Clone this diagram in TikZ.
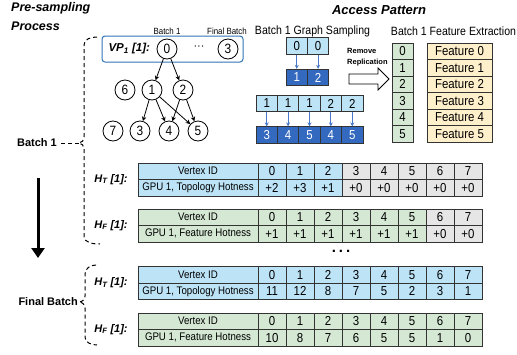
\documentclass[tikz,border=0pt]{standalone}
\usepackage{fontspec}
\setmainfont{Liberation Sans}
\setsansfont{Liberation Sans}
\newfontfamily\narrowsf[FakeStretch=0.88]{Liberation Sans}
\usetikzlibrary{arrows.meta}
\definecolor{cellblue}{HTML}{BDE3F6}
\definecolor{cellgreen}{HTML}{D5E8D4}
\definecolor{cellgray}{HTML}{E6E6E6}
\definecolor{cellyellow}{HTML}{FFF0CC}
\definecolor{darkcell}{HTML}{3469C0}
\definecolor{arrowblue}{HTML}{4A78C8}
\definecolor{frameblue}{HTML}{2E75B6}
\newcommand{\fsz}[1]{\fontsize{#1}{#1}\selectfont}

\begin{document}
\begin{tikzpicture}[x=1pt, y=-1pt, font=\sffamily,
	vtx/.style={circle, draw, line width=0.8pt, minimum size=20pt, inner sep=0pt, font=\narrowsf\fsz{13.5}},
	treeedge/.style={line width=0.8pt, -{Stealth[length=4.5pt,width=4.5pt]}},
	cell/.style={draw=black!80, line width=0.8pt, minimum height=16.5pt, inner sep=0pt, font=\narrowsf\fsz{13}},
	namecell/.style={cell, minimum width=120pt, font=\narrowsf\fsz{11}},
	hotcell/.style={cell, minimum width=28pt},
	samp/.style={cell, minimum width=21.4pt},
	sarrow/.style={arrowblue, line width=1pt, -{Stealth[length=4pt,width=4pt]}},
	brace/.style={line width=1pt, dash pattern=on 4pt off 3pt},
	hlabel/.style={font=\fsz{11}\bfseries\itshape}]
	\useasboundingbox (0,0) rectangle (517,354);
	\node[font=\fontsize{12.5}{19}\selectfont\bfseries\itshape, align=left, anchor=north west, inner sep=0pt] (pre) at (11,2) {Pre-sampling\\Process};
	\node[font=\fsz{13}\bfseries\itshape] (acc) at (379,10) {Access Pattern};
	\node[font=\narrowsf\fsz{12}] (gstitle) at (312.5,31) {Batch 1 Graph Sampling};
	\node[font=\narrowsf\fsz{12}] (fetitle) at (453.5,31) {Batch 1 Feature Extraction};

	\node[draw=frameblue, line width=1pt, rounded corners=3pt, minimum width=141pt, minimum height=26pt] (vp) at (172.5,49) {};
	\node[font=\fsz{11.5}\bfseries\itshape, anchor=west] (vplbl) at (105,49) {VP\textsubscript{1} [1]:};
	\node[font=\narrowsf\fsz{9}] (bfirst) at (167,31) {Batch 1};
	\node[font=\narrowsf\fsz{9}] (blast) at (227,31) {Final Batch};
	\node[vtx, fill=white] (v0) at (167,49) {0};
	\node[font=\fsz{11}] (vdots) at (199,48) {···};
	\node[vtx, fill=white] (vl3) at (228,49) {3};
	\node[vtx] (v6) at (125,90) {6};
	\node[vtx] (v1) at (152,90) {1};
	\node[vtx] (v2) at (183,90) {2};
	\node[vtx] (v7) at (113,131) {7};
	\node[vtx] (v3) at (140,131) {3};
	\node[vtx] (v4) at (169,131) {4};
	\node[vtx] (v5) at (198,131) {5};
	\foreach \a/\b in {v0/v1, v0/v2, v1/v3, v1/v4, v1/v5, v2/v4, v2/v5}
		\draw[treeedge] (\a) -- (\b);

	\node[samp, fill=cellblue] (a0) at (296.7,46) {0};
	\node[samp, fill=cellblue] (a1) at (318.1,46) {0};
	\node[samp, fill=darkcell, text=white] (b0) at (296.7,77.5) {1};
	\node[samp, fill=darkcell, text=white] (b1) at (318.1,77.5) {2};
	\draw[sarrow] (a0) -- (b0);
	\draw[sarrow] (a1) -- (b1);
	\foreach \u/\w [count=\i from 0] in {1/3, 1/4, 1/5, 2/4, 2/5} {
		\node[samp, fill=cellblue] (c\i) at (266.7+21.4*\i,103.5) {\u};
		\node[samp, fill=darkcell, text=white] (d\i) at (266.7+21.4*\i,135) {\w};
		\draw[sarrow] (c\i) -- (d\i);
	}

	\node[font=\fontsize{7.5}{11}\selectfont\bfseries, align=left, anchor=west, inner sep=0pt] (rmv) at (347,57) {Remove\\Replication};
	\draw[line width=0.8pt, fill=white] (349,74) -- (378,74) -- (378,68) -- (389,79) -- (378,90) -- (378,84) -- (349,84) -- cycle;

	\foreach \k in {0,...,5} {
		\node[cell, minimum width=21pt, fill=cellgreen] (g\k) at (402.5,51.25+16.5*\k) {\k};
		\node[cell, minimum width=65pt, fill=cellyellow] (f\k) at (459.5,51.25+16.5*\k) {Feature \k};
	}

	% batch 1
	\node[hlabel] (t1lbl) at (111,179.5) {H\textsubscript{T} [1]:};
	\node[namecell, fill=cellblue] (t1id) at (198,171.25) {Vertex ID};
	\node[namecell, fill=cellblue] (t1hot) at (198,187.75) {GPU 1, Topology Hotness};
	\foreach \v [count=\i from 0] in {+2,+3,+1,+0,+0,+0,+0,+0} {
		\ifnum\i<3 \def\cc{cellblue}\else\def\cc{cellgray}\fi
		\node[hotcell, fill=\cc] (t1v\i) at (272+28*\i,171.25) {\i};
		\node[hotcell, fill=\cc] (t1h\i) at (272+28*\i,187.75) {\v};
	}
	\node[hlabel] (t2lbl) at (111,225.5) {H\textsubscript{F} [1]:};
	\node[namecell, fill=cellgreen] (t2id) at (198,217.25) {Vertex ID};
	\node[namecell, fill=cellgreen] (t2hot) at (198,233.75) {GPU 1, Feature Hotness};
	\foreach \v [count=\i from 0] in {+1,+1,+1,+1,+1,+1,+0,+0} {
		\ifnum\i<6 \def\cc{cellgreen}\else\def\cc{cellgray}\fi
		\node[hotcell, fill=\cc] (t2v\i) at (272+28*\i,217.25) {\i};
		\node[hotcell, fill=\cc] (t2h\i) at (272+28*\i,233.75) {\v};
	}
	\node[font=\fsz{15}\bfseries] (more) at (341,251) {.\hspace{3pt}.\hspace{3pt}.};

	% final batch
	\node[hlabel] (t3lbl) at (111,283) {H\textsubscript{T} [1]:};
	\node[namecell, fill=cellblue] (t3id) at (198,274.75) {Vertex ID};
	\node[namecell, fill=cellblue] (t3hot) at (198,291.25) {GPU 1, Topology Hotness};
	\foreach \v [count=\i from 0] in {11,12,8,7,5,2,3,1} {
		\node[hotcell, fill=cellblue] (t3v\i) at (272+28*\i,274.75) {\i};
		\node[hotcell, fill=cellblue] (t3h\i) at (272+28*\i,291.25) {\v};
	}
	\node[hlabel] (t4lbl) at (111,329.5) {H\textsubscript{F} [1]:};
	\node[namecell, fill=cellgreen] (t4id) at (198,321.25) {Vertex ID};
	\node[namecell, fill=cellgreen] (t4hot) at (198,337.75) {GPU 1, Feature Hotness};
	\foreach \v [count=\i from 0] in {10,8,7,6,5,5,1,0} {
		\node[hotcell, fill=cellgreen] (t4v\i) at (272+28*\i,321.25) {\i};
		\node[hotcell, fill=cellgreen] (t4h\i) at (272+28*\i,337.75) {\v};
	}

	\node[font=\fsz{11}\bfseries] (b1lbl) at (37,143) {Batch 1};
	\node[font=\fsz{11}\bfseries, anchor=east, inner sep=1pt] (fblbl) at (79,302) {Final Batch};
	\coordinate (b1tip) at (79,143);
	\draw[brace] (97,37) to[out=180,in=90] (84,45) -- (84,137) to[out=270,in=0] (b1tip) to[out=0,in=90] (84,149) -- (84,236) to[out=270,in=180] (100,244);
	\draw[brace] (b1tip) -- (b1lbl.east);
	\draw[brace] (96,265) to[out=180,in=90] (85,274) -- (85,296) to[out=270,in=0] (fblbl.east) to[out=0,in=90] (85,308) -- (85,337) to[out=270,in=180] (97,345);
	\coordinate (dtop) at (38,178);
	\coordinate (dbot) at (38,258);
	\draw[line width=3pt, -{Triangle[width=13pt,length=10pt]}] (dtop) -- (dbot);
\end{tikzpicture}
\end{document}
